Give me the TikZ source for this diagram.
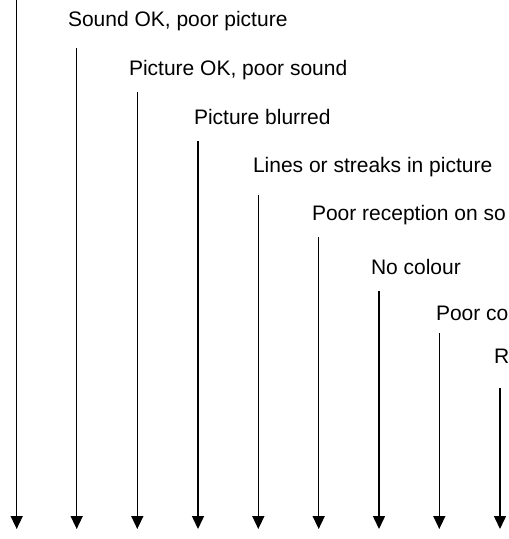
\documentclass[tikz,border=0pt]{standalone}
\usepackage{fontspec}
\setmainfont{Liberation Sans}
\usetikzlibrary{arrows.meta}
\tikzset{
  lbl/.style={anchor=base west, inner sep=0pt, outer sep=0pt, font=\fontsize{21}{25}\selectfont},
  darr/.style={line width=1.5pt, -{Triangle[width=12pt,length=13pt]}}
}
\begin{document}
\begin{tikzpicture}[x=1pt,y=-1pt]
\useasboundingbox (0,0) rectangle (509,539);
\clip (0,0) rectangle (509,539);
% line tops
\coordinate (t1) at (16.7,-2);
\coordinate (t2) at (76.7,48);
\coordinate (t3) at (137.3,92);
\coordinate (t4) at (198,141);
\coordinate (t5) at (258.3,195);
\coordinate (t6) at (318.7,237);
\coordinate (t7) at (379,291);
\coordinate (t8) at (439.3,333);
\coordinate (t9) at (500,388);
% tips
\foreach \i/\x in {1/16.7,2/76.7,3/137.3,4/198,5/258.3,6/318.7,7/379,8/439.3,9/500}
  \coordinate (b\i) at (\x,529);
\foreach \i in {1,...,9}
  \draw[darr] (t\i) -- (b\i);
% labels
\node[lbl] (l1) at (68,26) {Sound OK, poor picture};
\node[lbl] (l2) at (129,75) {Picture OK, poor sound};
\node[lbl] (l3) at (194,124) {Picture blurred};
\node[lbl] (l4) at (253,172) {Lines or streaks in picture};
\node[lbl] (l5) at (312,220) {Poor reception on so};
\node[lbl] (l6) at (371,274) {No colour};
\node[lbl] (l7) at (436,320) {Poor co};
\node[lbl] (l8) at (494,363) {R};
\end{tikzpicture}
\end{document}
